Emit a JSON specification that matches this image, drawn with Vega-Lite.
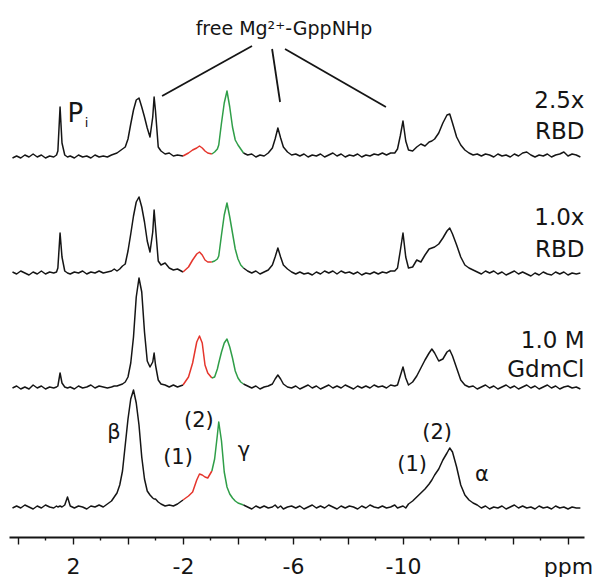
{
  "$schema": "https://vega.github.io/schema/vega-lite/v6.json",
  "width": 575,
  "height": 537,
  "autosize": "none",
  "padding": {"left": 9, "right": 10, "top": 0, "bottom": 40},
  "background": "white",
  "config": {"view": {"stroke": null}, "text": {"font": "DejaVu Sans", "color": "#151515"}},
  "resolve": {"axis": {"x": "independent"}},
  "encoding": {
    "y": {"field": "y", "type": "quantitative", "scale": {"domain": [0, 53.7], "nice": false, "zero": false}, "axis": null}
  },
  "layer": [
    {
      "data": {"values": [
        {"p":4.2,"k":"k1","a":37.9,"b":26.5,"c":14.9,"d":2.9},
        {"p":4.05,"k":"k1","a":38.1,"b":26.3,"c":15.1,"d":3.1},
        {"p":3.9,"k":"k1","a":37.9,"b":26.6,"c":14.8,"d":2.9},
        {"p":3.75,"k":"k1","a":38.2,"b":26.4,"c":15.0,"d":3.2},
        {"p":3.6,"k":"k1","a":38.0,"b":26.2,"c":14.8,"d":3.0},
        {"p":3.45,"k":"k1","a":38.3,"b":26.5,"c":15.2,"d":2.8},
        {"p":3.3,"k":"k1","a":38.0,"b":26.3,"c":14.9,"d":3.1},
        {"p":3.15,"k":"k1","a":38.2,"b":26.6,"c":15.1,"d":2.9},
        {"p":3.0,"k":"k1","a":37.9,"b":26.3,"c":14.8,"d":3.2},
        {"p":2.85,"k":"k1","a":38.1,"b":26.5,"c":15.0,"d":3.0},
        {"p":2.7,"k":"k1","a":38.0,"b":26.4,"c":14.9,"d":2.9},
        {"p":2.6,"k":"k1","a":38.2,"b":26.5,"c":15.0,"d":3.1},
        {"p":2.55,"k":"k1","a":38.6,"b":26.9,"c":15.1,"d":3.0},
        {"p":2.47,"k":"k1","a":43.0,"b":30.4,"c":16.4,"d":3.1},
        {"p":2.4,"k":"k1","a":39.4,"b":28.0,"c":15.4,"d":3.0},
        {"p":2.3,"k":"k1","a":38.2,"b":26.6,"c":15.0,"d":3.2},
        {"p":2.2,"k":"k1","a":38.0,"b":26.4,"c":14.9,"d":4.0},
        {"p":2.1,"k":"k1","a":38.1,"b":26.3,"c":15.0,"d":3.1},
        {"p":1.95,"k":"k1","a":37.9,"b":26.5,"c":14.8,"d":2.9},
        {"p":1.8,"k":"k1","a":38.2,"b":26.4,"c":15.1,"d":3.1},
        {"p":1.65,"k":"k1","a":38.0,"b":26.6,"c":14.9,"d":3.0},
        {"p":1.5,"k":"k1","a":38.1,"b":26.3,"c":15.0,"d":2.8},
        {"p":1.35,"k":"k1","a":37.9,"b":26.5,"c":15.2,"d":3.1},
        {"p":1.2,"k":"k1","a":38.2,"b":26.4,"c":14.9,"d":3.0},
        {"p":1.05,"k":"k1","a":38.0,"b":26.6,"c":15.1,"d":3.2},
        {"p":0.9,"k":"k1","a":38.1,"b":26.4,"c":15.0,"d":3.0},
        {"p":0.75,"k":"k1","a":38.0,"b":26.5,"c":14.9,"d":3.3},
        {"p":0.6,"k":"k1","a":38.2,"b":26.6,"c":15.0,"d":3.6},
        {"p":0.5,"k":"k1","a":38.3,"b":26.8,"c":15.1,"d":4.0},
        {"p":0.4,"k":"k1","a":38.4,"b":26.6,"c":15.1,"d":4.4},
        {"p":0.3,"k":"k1","a":38.6,"b":26.8,"c":15.2,"d":5.2},
        {"p":0.2,"k":"k1","a":38.8,"b":27.1,"c":15.3,"d":6.6},
        {"p":0.1,"k":"k1","a":39.0,"b":27.3,"c":15.5,"d":9.2},
        {"p":0.0,"k":"k1","a":39.8,"b":28.6,"c":16.0,"d":11.8},
        {"p":-0.1,"k":"k1","a":41.3,"b":30.3,"c":17.4,"d":13.8},
        {"p":-0.2,"k":"k1","a":42.7,"b":32.1,"c":20.0,"d":14.7},
        {"p":-0.3,"k":"k1","a":43.7,"b":33.5,"c":24.0,"d":13.4},
        {"p":-0.4,"k":"k1","a":43.9,"b":34.0,"c":25.9,"d":11.2},
        {"p":-0.5,"k":"k1","a":43.0,"b":33.0,"c":24.5,"d":8.0},
        {"p":-0.6,"k":"k1","a":42.0,"b":31.5,"c":20.5,"d":5.8},
        {"p":-0.7,"k":"k1","a":40.9,"b":29.6,"c":17.6,"d":4.6},
        {"p":-0.8,"k":"k1","a":40.0,"b":28.5,"c":17.0,"d":4.2},
        {"p":-0.9,"k":"k1","a":42.0,"b":30.5,"c":17.5,"d":3.9},
        {"p":-0.95,"k":"k1","a":44.0,"b":32.7,"c":18.4,"d":3.8},
        {"p":-1.0,"k":"k1","a":42.6,"b":31.0,"c":17.2,"d":3.8},
        {"p":-1.1,"k":"k1","a":39.0,"b":27.6,"c":15.7,"d":3.5},
        {"p":-1.2,"k":"k1","a":38.6,"b":27.2,"c":15.3,"d":3.3},
        {"p":-1.35,"k":"k1","a":38.3,"b":27.4,"c":15.2,"d":3.1},
        {"p":-1.5,"k":"k1","a":38.4,"b":26.9,"c":15.0,"d":3.2},
        {"p":-1.65,"k":"k1","a":38.1,"b":26.7,"c":15.2,"d":3.1},
        {"p":-1.8,"k":"k1","a":38.2,"b":26.8,"c":15.0,"d":3.3},
        {"p":-2.0,"k":"k1","a":38.1,"b":26.5,"c":15.2,"d":3.7},
        {"p":-2.0,"k":"r","a":38.1,"b":26.5,"c":15.2,"d":3.7},
        {"p":-2.2,"k":"r","a":38.4,"b":27.0,"c":16.0,"d":4.1},
        {"p":-2.35,"k":"r","a":38.7,"b":27.7,"c":17.4,"d":4.5},
        {"p":-2.5,"k":"r","a":38.9,"b":28.3,"c":19.5,"d":5.7},
        {"p":-2.6,"k":"r","a":39.1,"b":28.5,"c":20.1,"d":6.3},
        {"p":-2.7,"k":"r","a":38.9,"b":28.2,"c":19.4,"d":6.2},
        {"p":-2.8,"k":"r","a":38.6,"b":27.7,"c":17.2,"d":6.0},
        {"p":-2.9,"k":"r","a":38.4,"b":27.5,"c":16.4,"d":5.9},
        {"p":-3.05,"k":"r","a":38.3,"b":27.5,"c":15.9,"d":6.6},
        {"p":-3.05,"k":"g","a":38.3,"b":27.5,"c":15.9,"d":6.6},
        {"p":-3.15,"k":"g","a":38.5,"b":27.6,"c":16.0,"d":7.8},
        {"p":-3.25,"k":"g","a":38.8,"b":27.8,"c":16.8,"d":10.2},
        {"p":-3.3,"k":"g","a":39.2,"b":28.1,"c":17.4,"d":11.5},
        {"p":-3.4,"k":"g","a":41.4,"b":30.2,"c":18.5,"d":9.6},
        {"p":-3.5,"k":"g","a":43.4,"b":32.2,"c":19.4,"d":6.5},
        {"p":-3.6,"k":"g","a":44.6,"b":33.4,"c":19.8,"d":5.0},
        {"p":-3.7,"k":"g","a":43.0,"b":32.0,"c":19.0,"d":4.3},
        {"p":-3.8,"k":"g","a":41.0,"b":30.4,"c":17.9,"d":3.9},
        {"p":-3.9,"k":"g","a":39.7,"b":28.8,"c":16.6,"d":3.6},
        {"p":-4.0,"k":"g","a":39.2,"b":27.8,"c":15.9,"d":3.4},
        {"p":-4.1,"k":"g","a":38.8,"b":27.2,"c":15.5,"d":3.3},
        {"p":-4.2,"k":"g","a":38.4,"b":26.9,"c":15.3,"d":3.2},
        {"p":-4.2,"k":"k2","a":38.4,"b":26.9,"c":15.3,"d":3.2},
        {"p":-4.35,"k":"k2","a":38.2,"b":26.6,"c":15.1,"d":3.0},
        {"p":-4.5,"k":"k2","a":38.3,"b":26.4,"c":14.9,"d":2.8},
        {"p":-4.65,"k":"k2","a":38.0,"b":26.6,"c":15.1,"d":3.1},
        {"p":-4.8,"k":"k2","a":38.2,"b":26.3,"c":14.8,"d":2.9},
        {"p":-4.95,"k":"k2","a":38.1,"b":26.5,"c":15.0,"d":3.1},
        {"p":-5.1,"k":"k2","a":38.4,"b":26.7,"c":15.1,"d":2.9},
        {"p":-5.25,"k":"k2","a":38.9,"b":27.2,"c":15.3,"d":3.0},
        {"p":-5.35,"k":"k2","a":39.8,"b":28.0,"c":15.8,"d":3.2},
        {"p":-5.45,"k":"k2","a":40.9,"b":28.9,"c":16.2,"d":2.9},
        {"p":-5.55,"k":"k2","a":39.9,"b":28.0,"c":15.8,"d":3.1},
        {"p":-5.65,"k":"k2","a":39.0,"b":27.2,"c":15.3,"d":2.8},
        {"p":-5.8,"k":"k2","a":38.5,"b":26.8,"c":15.0,"d":3.0},
        {"p":-5.95,"k":"k2","a":38.2,"b":26.5,"c":14.9,"d":3.1},
        {"p":-6.1,"k":"k2","a":38.3,"b":26.3,"c":15.1,"d":2.9},
        {"p":-6.25,"k":"k2","a":38.1,"b":26.5,"c":14.8,"d":3.1},
        {"p":-6.4,"k":"k2","a":38.3,"b":26.3,"c":15.0,"d":2.8},
        {"p":-6.55,"k":"k2","a":38.0,"b":26.4,"c":15.2,"d":3.0},
        {"p":-6.7,"k":"k2","a":38.2,"b":26.2,"c":14.9,"d":3.2},
        {"p":-6.85,"k":"k2","a":38.1,"b":26.5,"c":15.1,"d":2.9},
        {"p":-7.0,"k":"k2","a":38.3,"b":26.3,"c":14.8,"d":3.1},
        {"p":-7.15,"k":"k2","a":38.0,"b":26.6,"c":15.0,"d":2.9},
        {"p":-7.3,"k":"k2","a":38.2,"b":26.4,"c":15.2,"d":3.2},
        {"p":-7.45,"k":"k2","a":38.4,"b":26.6,"c":14.9,"d":3.0},
        {"p":-7.6,"k":"k2","a":38.1,"b":26.3,"c":15.1,"d":2.8},
        {"p":-7.75,"k":"k2","a":38.3,"b":26.6,"c":14.9,"d":3.1},
        {"p":-7.9,"k":"k2","a":38.0,"b":26.4,"c":15.2,"d":2.9},
        {"p":-8.05,"k":"k2","a":38.2,"b":26.5,"c":15.0,"d":3.1},
        {"p":-8.2,"k":"k2","a":38.1,"b":26.3,"c":14.8,"d":3.0},
        {"p":-8.35,"k":"k2","a":38.3,"b":26.5,"c":15.1,"d":2.8},
        {"p":-8.5,"k":"k2","a":38.0,"b":26.2,"c":14.9,"d":3.1},
        {"p":-8.65,"k":"k2","a":38.2,"b":26.4,"c":15.1,"d":2.9},
        {"p":-8.8,"k":"k2","a":38.1,"b":26.3,"c":14.9,"d":3.2},
        {"p":-8.95,"k":"k2","a":38.3,"b":26.5,"c":15.2,"d":3.0},
        {"p":-9.1,"k":"k2","a":38.2,"b":26.3,"c":15.0,"d":2.9},
        {"p":-9.25,"k":"k2","a":38.4,"b":26.5,"c":15.1,"d":3.1},
        {"p":-9.4,"k":"k2","a":38.2,"b":26.4,"c":14.9,"d":2.9},
        {"p":-9.55,"k":"k2","a":38.4,"b":26.6,"c":15.2,"d":3.0},
        {"p":-9.7,"k":"k2","a":38.4,"b":26.6,"c":15.1,"d":3.2},
        {"p":-9.8,"k":"k2","a":38.8,"b":26.9,"c":15.2,"d":2.9},
        {"p":-9.9,"k":"k2","a":40.1,"b":28.6,"c":16.1,"d":3.0},
        {"p":-10.0,"k":"k2","a":41.6,"b":30.4,"c":17.0,"d":3.1},
        {"p":-10.1,"k":"k2","a":39.6,"b":28.0,"c":15.9,"d":2.9},
        {"p":-10.2,"k":"k2","a":38.7,"b":26.9,"c":15.2,"d":3.3},
        {"p":-10.35,"k":"k2","a":38.6,"b":27.0,"c":15.5,"d":3.6},
        {"p":-10.5,"k":"k2","a":39.0,"b":27.7,"c":16.1,"d":4.0},
        {"p":-10.65,"k":"k2","a":39.3,"b":27.5,"c":16.9,"d":4.4},
        {"p":-10.8,"k":"k2","a":39.1,"b":28.2,"c":17.7,"d":4.8},
        {"p":-10.95,"k":"k2","a":39.5,"b":28.8,"c":18.4,"d":5.3},
        {"p":-11.05,"k":"k2","a":39.6,"b":28.9,"c":18.8,"d":5.7},
        {"p":-11.15,"k":"k2","a":39.8,"b":29.0,"c":18.4,"d":6.2},
        {"p":-11.3,"k":"k2","a":40.4,"b":29.3,"c":17.6,"d":6.8},
        {"p":-11.45,"k":"k2","a":41.4,"b":29.9,"c":17.8,"d":7.7},
        {"p":-11.6,"k":"k2","a":42.2,"b":30.6,"c":18.5,"d":8.4},
        {"p":-11.7,"k":"k2","a":42.3,"b":30.9,"c":18.7,"d":8.9},
        {"p":-11.8,"k":"k2","a":41.4,"b":30.3,"c":18.1,"d":8.5},
        {"p":-11.95,"k":"k2","a":40.0,"b":29.2,"c":16.9,"d":7.0},
        {"p":-12.1,"k":"k2","a":39.2,"b":28.0,"c":15.7,"d":5.2},
        {"p":-12.25,"k":"k2","a":38.7,"b":27.2,"c":15.2,"d":4.2},
        {"p":-12.4,"k":"k2","a":38.4,"b":26.9,"c":15.0,"d":3.7},
        {"p":-12.55,"k":"k2","a":38.2,"b":26.7,"c":15.1,"d":3.4},
        {"p":-12.7,"k":"k2","a":38.3,"b":26.5,"c":14.8,"d":3.2},
        {"p":-12.85,"k":"k2","a":38.1,"b":26.3,"c":15.0,"d":2.9},
        {"p":-13.0,"k":"k2","a":38.3,"b":26.6,"c":15.2,"d":3.1},
        {"p":-13.15,"k":"k2","a":38.2,"b":26.4,"c":14.9,"d":2.8},
        {"p":-13.3,"k":"k2","a":38.0,"b":26.6,"c":15.1,"d":3.0},
        {"p":-13.45,"k":"k2","a":38.3,"b":26.3,"c":14.8,"d":2.9},
        {"p":-13.6,"k":"k2","a":38.1,"b":26.5,"c":15.0,"d":3.1},
        {"p":-13.75,"k":"k2","a":38.2,"b":26.2,"c":15.2,"d":2.8},
        {"p":-13.9,"k":"k2","a":38.0,"b":26.4,"c":14.9,"d":3.0},
        {"p":-14.05,"k":"k2","a":38.3,"b":26.6,"c":15.1,"d":3.2},
        {"p":-14.2,"k":"k2","a":38.1,"b":26.3,"c":14.8,"d":2.9},
        {"p":-14.35,"k":"k2","a":38.4,"b":26.5,"c":15.0,"d":3.1},
        {"p":-14.5,"k":"k2","a":38.5,"b":26.3,"c":15.2,"d":2.9},
        {"p":-14.65,"k":"k2","a":38.2,"b":26.1,"c":14.9,"d":3.0},
        {"p":-14.8,"k":"k2","a":38.0,"b":26.4,"c":15.1,"d":2.8},
        {"p":-14.95,"k":"k2","a":38.2,"b":26.2,"c":14.8,"d":3.1},
        {"p":-15.1,"k":"k2","a":38.1,"b":26.5,"c":15.0,"d":2.9},
        {"p":-15.25,"k":"k2","a":38.3,"b":26.3,"c":15.2,"d":3.0},
        {"p":-15.4,"k":"k2","a":38.0,"b":26.2,"c":14.9,"d":2.8},
        {"p":-15.55,"k":"k2","a":38.2,"b":26.5,"c":15.1,"d":3.1},
        {"p":-15.7,"k":"k2","a":38.3,"b":26.3,"c":14.8,"d":2.9},
        {"p":-15.85,"k":"k2","a":38.5,"b":26.5,"c":15.0,"d":3.0},
        {"p":-16.0,"k":"k2","a":38.1,"b":26.2,"c":15.1,"d":2.8},
        {"p":-16.15,"k":"k2","a":38.3,"b":26.4,"c":14.9,"d":3.0},
        {"p":-16.3,"k":"k2","a":38.2,"b":26.3,"c":15.0,"d":2.9},
        {"p":-16.45,"k":"k2","a":38.0,"b":26.4,"c":14.8,"d":2.9}
      ]},
      "transform": [{"fold": ["a", "b", "c", "d"], "as": ["row", "y"]}],
      "mark": {"type": "line", "strokeWidth": 1.5, "strokeJoin": "round"},
      "encoding": {
        "x": {
          "field": "p", "type": "quantitative",
          "scale": {"domain": [4.327, -16.582], "nice": false, "zero": false},
          "axis": {
            "orient": "bottom",
            "values": [4, 2, 0, -2, -4, -6, -8, -10, -12, -14, -16],
            "labelExpr": "datum.value == -16 ? 'ppm' : ((datum.value == 2 || datum.value == -2 || datum.value == -6 || datum.value == -10) ? toString(datum.value) : '')",
            "title": null, "grid": false,
            "domainColor": "#151515", "domainWidth": 1.8,
            "tickColor": "#151515", "tickWidth": 1.4, "tickSize": 7,
            "labelFont": "DejaVu Sans", "labelFontSize": 22, "labelColor": "#151515",
            "labelBaseline": "alphabetic", "labelPadding": 29, "labelFlush": false, "labelOverlap": false
          }
        },
        "detail": {"field": "row", "type": "nominal"},
        "color": {"field": "k", "type": "nominal", "legend": null,
          "scale": {"domain": ["k1", "r", "g", "k2"], "range": ["#151515", "#e5352c", "#2f9e48", "#151515"]}}
      }
    },
    {
      "data": {"values": [
        {"p": -4.51, "y": 49.1, "p2": -1.24, "y2": 44.1},
        {"p": -5.24, "y": 48.8, "p2": -5.53, "y2": 43.5},
        {"p": -5.71, "y": 48.8, "p2": -9.38, "y2": 43.0}
      ]},
      "mark": {"type": "rule", "strokeWidth": 1.8, "color": "#151515"},
      "encoding": {
        "x": {
          "field": "p", "type": "quantitative",
          "scale": {"domain": [4.327, -16.582], "nice": false, "zero": false},
          "axis": {
            "orient": "bottom",
            "values": [3, 1, -1, -3, -5, -7, -9, -11, -13, -15],
            "title": null, "grid": false, "domain": false, "labels": false,
            "tickColor": "#151515", "tickWidth": 1.4, "tickSize": 3
          }
        },
        "x2": {"field": "p2"}, "y2": {"field": "y2"}
      }
    },
    {
      "data": {"values": [{"t": "free Mg²⁺-GppNHp", "p": -5.67, "y": 50.2}]},
      "mark": {"type": "text", "fontSize": 19, "align": "center", "baseline": "alphabetic"},
      "encoding": {
        "x": {"field": "p", "type": "quantitative", "scale": {"domain": [4.327, -16.582], "nice": false, "zero": false}, "axis": null},
        "text": {"field": "t"}
      }
    },
    {
      "data": {"values": [
        {"t": "2.5x", "p": -16.6, "y": 42.9},
        {"t": "RBD", "p": -16.6, "y": 39.8},
        {"t": "1.0x", "p": -16.6, "y": 31.2},
        {"t": "RBD", "p": -16.6, "y": 28.0},
        {"t": "1.0 M", "p": -16.6, "y": 18.9},
        {"t": "GdmCl", "p": -16.6, "y": 16.0}
      ]},
      "mark": {"type": "text", "fontSize": 23, "align": "right", "baseline": "alphabetic"},
      "encoding": {
        "x": {"field": "p", "type": "quantitative", "scale": {"domain": [4.327, -16.582], "nice": false, "zero": false}, "axis": null},
        "text": {"field": "t"}
      }
    },
    {
      "data": {"values": [
        {"t": "β", "p": 0.51, "y": 10.4},
        {"t": "(1)", "p": -1.82, "y": 7.95},
        {"t": "(2)", "p": -2.58, "y": 11.6},
        {"t": "γ", "p": -4.22, "y": 8.6},
        {"t": "(1)", "p": -10.33, "y": 7.2},
        {"t": "(2)", "p": -11.24, "y": 10.4},
        {"t": "α", "p": -12.87, "y": 6.2}
      ]},
      "mark": {"type": "text", "fontSize": 21, "align": "center", "baseline": "middle"},
      "encoding": {
        "x": {"field": "p", "type": "quantitative", "scale": {"domain": [4.327, -16.582], "nice": false, "zero": false}, "axis": null},
        "text": {"field": "t"}
      }
    },
    {
      "data": {"values": [{"t": "P", "p": 1.91, "y": 41.5}]},
      "mark": {"type": "text", "fontSize": 26, "align": "center", "baseline": "alphabetic"},
      "encoding": {
        "x": {"field": "p", "type": "quantitative", "scale": {"domain": [4.327, -16.582], "nice": false, "zero": false}, "axis": null},
        "text": {"field": "t"}
      }
    },
    {
      "data": {"values": [{"t": "i", "p": 1.51, "y": 41.0}]},
      "mark": {"type": "text", "fontSize": 13, "align": "center", "baseline": "alphabetic"},
      "encoding": {
        "x": {"field": "p", "type": "quantitative", "scale": {"domain": [4.327, -16.582], "nice": false, "zero": false}, "axis": null},
        "text": {"field": "t"}
      }
    }
  ]
}
